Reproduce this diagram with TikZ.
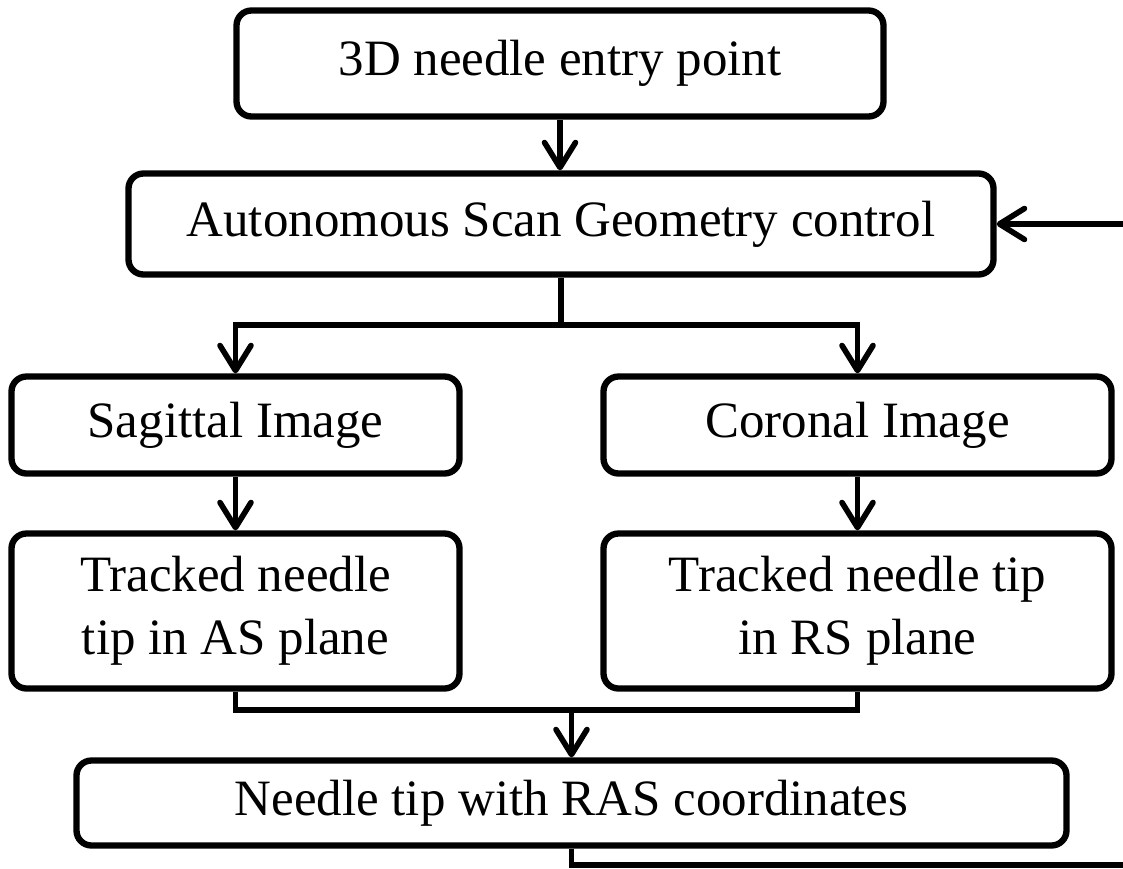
\documentclass[tikz,border=0pt]{standalone}
\usepackage{fontspec}
\setmainfont{Liberation Serif}
\usetikzlibrary{arrows.meta}

\begin{document}
\begin{tikzpicture}[
    box/.style={draw, line width=3.6pt, rounded corners=0.3cm, inner sep=0pt, align=center, font=\fontsize{29}{36}\selectfont},
    wire/.style={line width=3.2pt},
    flow/.style={wire, -{Straight Barb[length=0.5cm, width=0.62cm, line cap=round, line join=round]}}
]
    % Page frame
    \clip (0,0) rectangle (22.46,-17.38);

    % Boxes
    \node[box, minimum width=12.94cm, minimum height=2.12cm] (entry) at (11.2,-1.27) {3D needle entry point};
    \node[box, minimum width=17.3cm, minimum height=2.02cm] (scan) at (11.22,-4.48) {Autonomous Scan Geometry control};
    \node[box, minimum width=8.96cm, minimum height=1.94cm] (sag) at (4.71,-8.5) {Sagittal Image};
    \node[box, minimum width=10.16cm, minimum height=1.94cm] (cor) at (17.15,-8.5) {Coronal Image};
    \node[box, minimum width=8.96cm, minimum height=3.1cm] (trackAS) at (4.71,-12.22) {Tracked needle\\tip in AS plane};
    \node[box, minimum width=10.16cm, minimum height=3.1cm] (trackRS) at (17.15,-12.22) {Tracked needle tip\\in RS plane};
    \node[box, minimum width=19.8cm, minimum height=1.7cm] (ras) at (11.43,-16.06) {Needle tip with RAS coordinates};

    % Junctions
    \coordinate (split) at (11.22,-6.5);
    \coordinate (merge) at (11.43,-14.2);
    \coordinate (loop) at (22.8,-17.3);

    % Top chain
    \draw[flow] (entry.south) -- (entry.south |- scan.north);
    \draw[wire] (scan.south) -- (split);
    \draw[flow] (split) -| (sag.north);
    \draw[flow] (split) -| (cor.north);

    % Both planes
    \draw[flow] (sag) -- (trackAS);
    \draw[flow] (cor) -- (trackRS);
    \draw[wire] (trackAS.south) -- (trackAS.south |- merge) -- (trackRS.south |- merge) -- (trackRS.south);
    \draw[flow] (merge) -- (ras.north);

    % Feedback
    \draw[flow] (ras.south) |- (loop) |- (scan.east);
\end{tikzpicture}
\end{document}
